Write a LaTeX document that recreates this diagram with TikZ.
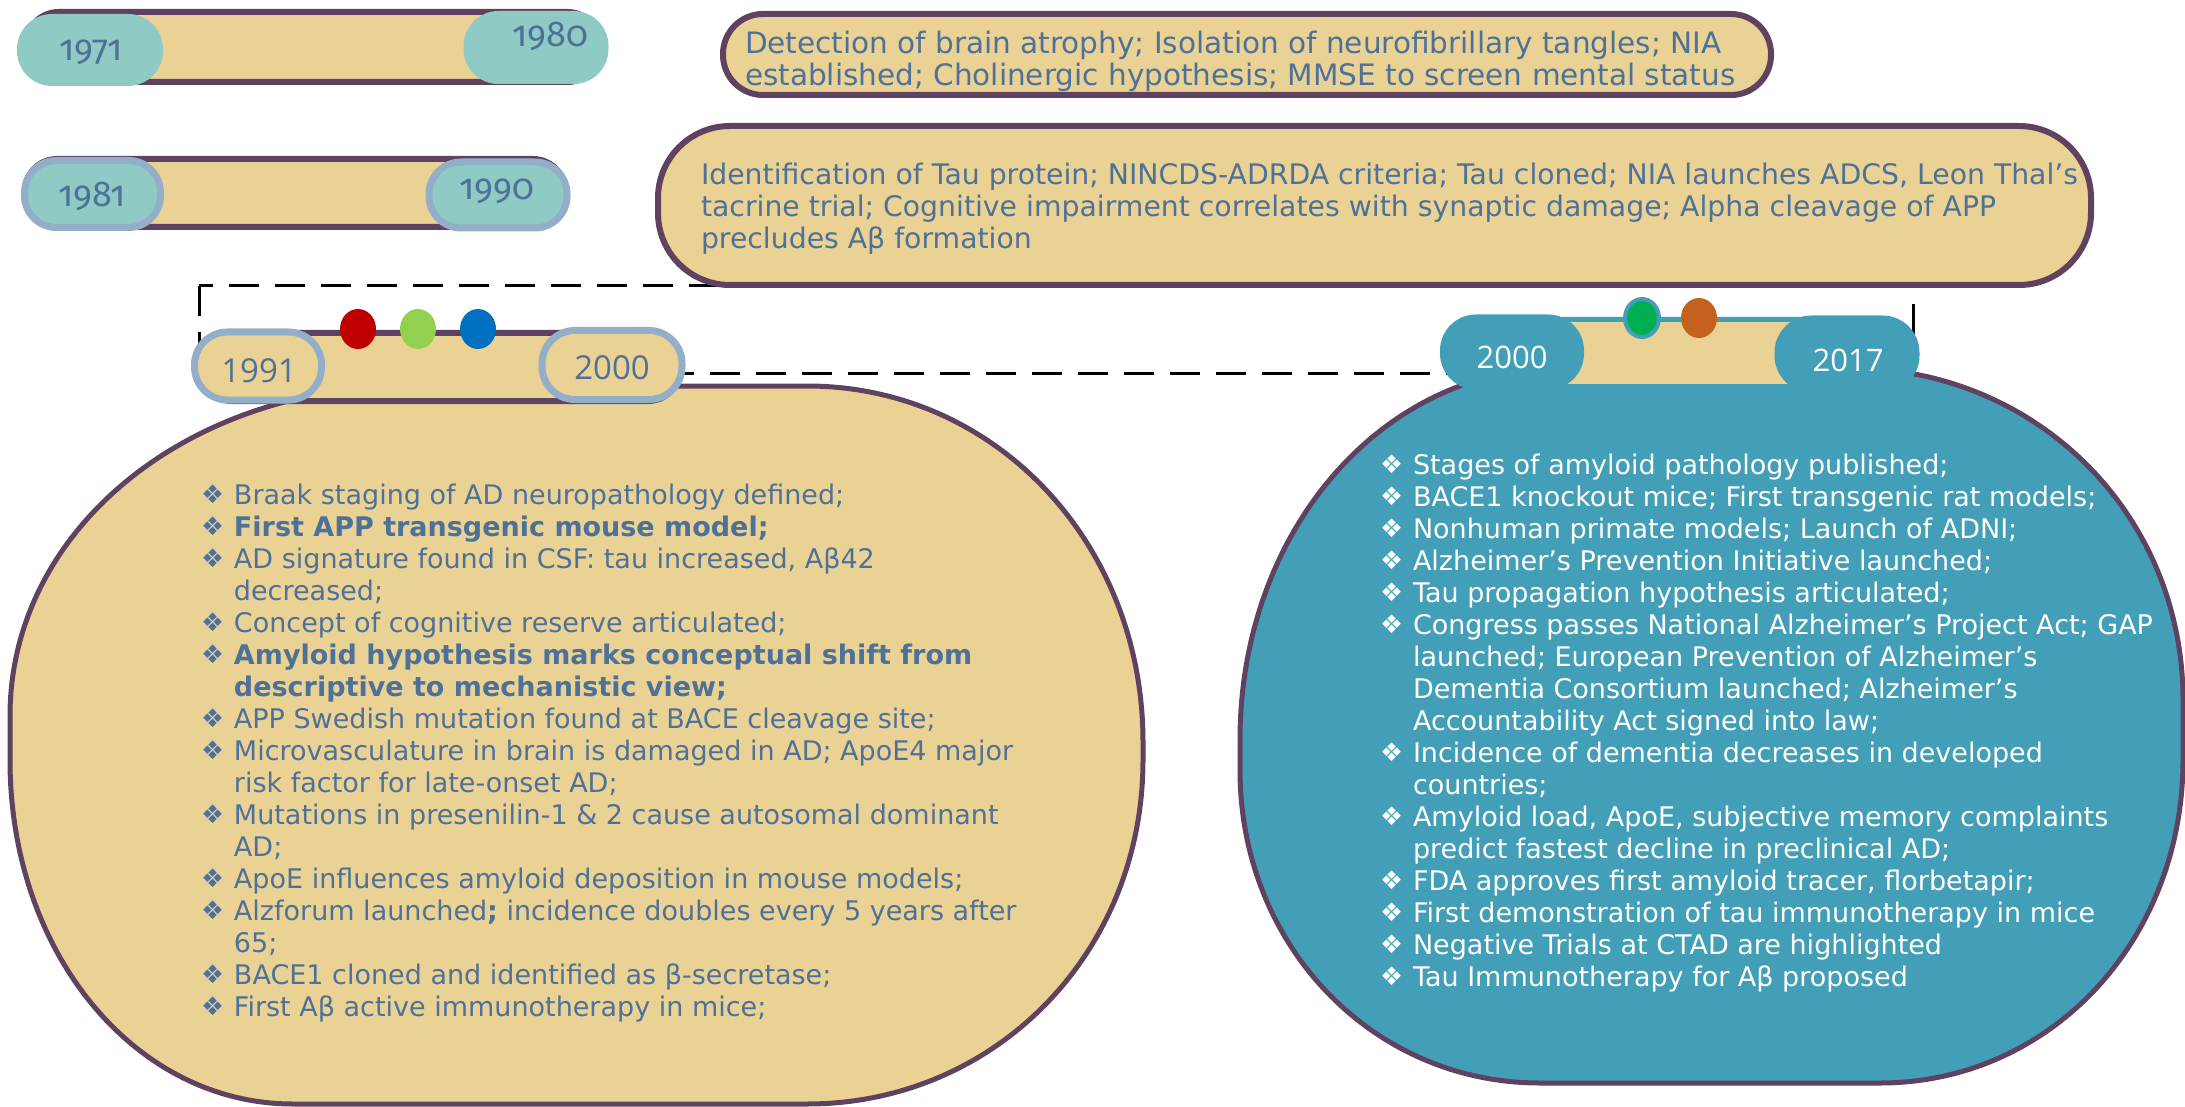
\documentclass[tikz,border=0pt]{standalone}
\usepackage{fontspec}
\setmainfont{DejaVu Sans}
\newfontfamily\oldyear[Numbers=OldStyle]{Fira Sans}
\newfontfamily\newyear{Open Sans}
\usetikzlibrary{shapes.geometric}

\definecolor{barTan}{HTML}{EAD295}
\definecolor{edgePurple}{HTML}{5F4260}
\definecolor{pillTeal}{HTML}{90CAC4}
\definecolor{pillRing}{HTML}{93AEC8}
\definecolor{deepTeal}{HTML}{439FB8}
\definecolor{inkBlue}{HTML}{4D7198}
\definecolor{dotRed}{HTML}{C00000}
\definecolor{dotLime}{HTML}{92D050}
\definecolor{dotBlue}{HTML}{0070C0}
\definecolor{dotGreen}{HTML}{00B050}
\definecolor{dotOrange}{HTML}{C5611F}

\newcommand{\dia}{\raisebox{1pt}{\scalebox{0.95}{❖}}}

\begin{document}
\begin{tikzpicture}[x=1pt, y=-1pt,
  every node/.style={inner sep=0pt, outer sep=0pt},
  bar/.style={draw=edgePurple, line width=6pt, fill=barTan, rounded corners=32pt},
  pill/.style={fill=pillTeal},
  ringpill/.style={draw=pillRing, line width=7pt},
  yrold/.style={text=inkBlue, font=\oldyear\fontsize{36}{36}\selectfont},
  yrnew/.style={text=inkBlue, font=\newyear\fontsize{33}{33}\selectfont},
  dot/.style={ellipse, minimum width=36pt, minimum height=40pt},
  box/.style={draw=edgePurple, line width=6pt, fill=barTan},
  txt/.style={text=inkBlue, font=\fontsize{27}{32}\selectfont, align=left, anchor=north west},
  frame/.style={line width=3pt, dash pattern=on 30pt off 16pt}
]

\useasboundingbox (0,0) rectangle (2185,1107);

\coordinate (fa) at (199,286);
\coordinate (fb) at (1913,373);
\draw[frame] (fa) rectangle (fb);

\draw[box, line width=5pt] (10,716) .. controls (10,531) and (186,386) .. (410,386)
  -- (807,386) .. controls (995,386) and (1143,543) .. (1143,742)
  -- (1143,760) .. controls (1143,953) and (995,1104) .. (807,1104)
  -- (293,1104) .. controls (135,1104) and (10,953) .. (10,760) -- cycle;

\draw[box, line width=5pt, fill=deepTeal] (1240,740) .. controls (1240,532) and (1381,368) .. (1560,368)
  -- (1850,368) .. controls (2036,368) and (2183,514) .. (2183,700)
  -- (2183,760) .. controls (2183,941) and (2050,1083) .. (1880,1083)
  -- (1540,1083) .. controls (1372,1083) and (1240,945) .. (1240,770) -- cycle;

\node[box, rounded corners=40pt, minimum width=1048pt, minimum height=81pt] (box1) at (1247,54.5) {};
\node[box, rounded corners=72pt, minimum width=1433pt, minimum height=159pt] (box2) at (1374.5,205.5) {};

\node[bar, minimum width=573pt, minimum height=70pt] (bar1) at (313,47) {};
\node[pill, rounded corners=35pt, minimum width=146pt, minimum height=72pt] (p1971) at (90,50) {};
\node[pill, rounded corners=35pt, minimum width=145pt, minimum height=73pt] (p1980) at (536,47.5) {};

\node[bar, minimum width=540pt, minimum height=68pt] (bar2) at (295,193) {};
\node[pill, ringpill, rounded corners=32pt, minimum width=136pt, minimum height=67pt] (p1981) at (92.5,194) {};
\node[pill, ringpill, rounded corners=32pt, minimum width=138pt, minimum height=66pt] (p1990) at (498,195) {};

\node[bar, minimum width=480pt, minimum height=68pt] (bar3) at (440,367) {};
\node[ringpill, fill=barTan, rounded corners=33pt, minimum width=127pt, minimum height=68pt] (p1991) at (258,366) {};
\node[ringpill, fill=barTan, rounded corners=33pt, minimum width=140pt, minimum height=69pt] (p2000a) at (612,365) {};

\node[bar, draw=deepTeal, line width=5pt, rounded corners=10pt, minimum width=440pt, minimum height=67pt] (bar4) at (1680,353) {};
\node[fill=deepTeal, rounded corners=36pt, minimum width=144pt, minimum height=75pt] (p2000b) at (1512,352) {};
\node[fill=deepTeal, rounded corners=37pt, minimum width=145pt, minimum height=77pt] (p2017) at (1847,354) {};

\node[dot, fill=dotRed] (dred) at (358,329) {};
\node[dot, fill=dotLime] (dlime) at (418,329) {};
\node[dot, fill=dotBlue] (dblue) at (478,329) {};
\node[dot, fill=dotGreen, draw=deepTeal, line width=4pt, minimum width=34pt, minimum height=38pt] (dgreen) at (1642,318) {};
\node[dot, fill=dotOrange] (dorange) at (1699,318) {};

\node[yrold] (t1971) at (91,52) {1971};
\node[yrold] (t1980) at (550,36) {1980};
\node[yrold] (t1981) at (92,196) {1981};
\node[yrold] (t1990) at (497,191) {1990};
\node[yrnew] (t1991) at (259,371) {1991};
\node[yrnew] (t2000a) at (612,368) {2000};
\node[yrnew, text=white, font=\newyear\fontsize{31}{31}\selectfont] (t2000b) at (1512,357) {2000};
\node[yrnew, text=white, font=\newyear\fontsize{31}{31}\selectfont] (t2017) at (1848,360) {2017};

\node[txt, font=\fontsize{29.5}{32}\selectfont] (era1) at (745,31) {Detection of brain atrophy; Isolation of neurofibrillary tangles; NIA\\established; Cholinergic hypothesis; MMSE to screen mental status};

\node[txt, font=\fontsize{28.3}{32}\selectfont] (era2) at (701,163) {Identification of Tau protein; NINCDS-ADRDA criteria; Tau cloned; NIA launches ADCS, Leon Thal’s\\tacrine trial; Cognitive impairment correlates with synaptic damage; Alpha cleavage of APP\\precludes Aβ formation};

\node[txt] (era3) at (201,482) {\begin{tabular}{@{}l@{\hspace{10pt}}l@{}}
\dia & Braak staging of AD neuropathology defined;\\
\dia & \textbf{First APP transgenic mouse model;}\\
\dia & AD signature found in CSF: tau increased, Aβ42\\
     & decreased;\\
\dia & Concept of cognitive reserve articulated;\\
\dia & \textbf{Amyloid hypothesis marks conceptual shift from}\\
     & \textbf{descriptive to mechanistic view;}\\
\dia & APP Swedish mutation found at BACE cleavage site;\\
\dia & Microvasculature in brain is damaged in AD; ApoE4 major\\
     & risk factor for late-onset AD;\\
\dia & Mutations in presenilin-1 \& 2 cause autosomal dominant\\
     & AD;\\
\dia & ApoE influences amyloid deposition in mouse models;\\
\dia & Alzforum launched\textbf{;} incidence doubles every 5 years after\\
     & 65;\\
\dia & BACE1 cloned and identified as β-secretase;\\
\dia & First Aβ active immunotherapy in mice;
\end{tabular}};

\node[txt, text=white] (era4) at (1380,452) {\begin{tabular}{@{}l@{\hspace{10pt}}l@{}}
\dia & Stages of amyloid pathology published;\\
\dia & BACE1 knockout mice; First transgenic rat models;\\
\dia & Nonhuman primate models; Launch of ADNI;\\
\dia & Alzheimer’s Prevention Initiative launched;\\
\dia & Tau propagation hypothesis articulated;\\
\dia & Congress passes National Alzheimer’s Project Act; GAP\\
     & launched; European Prevention of Alzheimer’s\\
     & Dementia Consortium launched; Alzheimer's\\
     & Accountability Act signed into law;\\
\dia & Incidence of dementia decreases in developed\\
     & countries;\\
\dia & Amyloid load, ApoE, subjective memory complaints\\
     & predict fastest decline in preclinical AD;\\
\dia & FDA approves first amyloid tracer, florbetapir;\\
\dia & First demonstration of tau immunotherapy in mice\\
\dia & Negative Trials at CTAD are highlighted\\
\dia & Tau Immunotherapy for Aβ proposed
\end{tabular}};

\end{tikzpicture}
\end{document}
